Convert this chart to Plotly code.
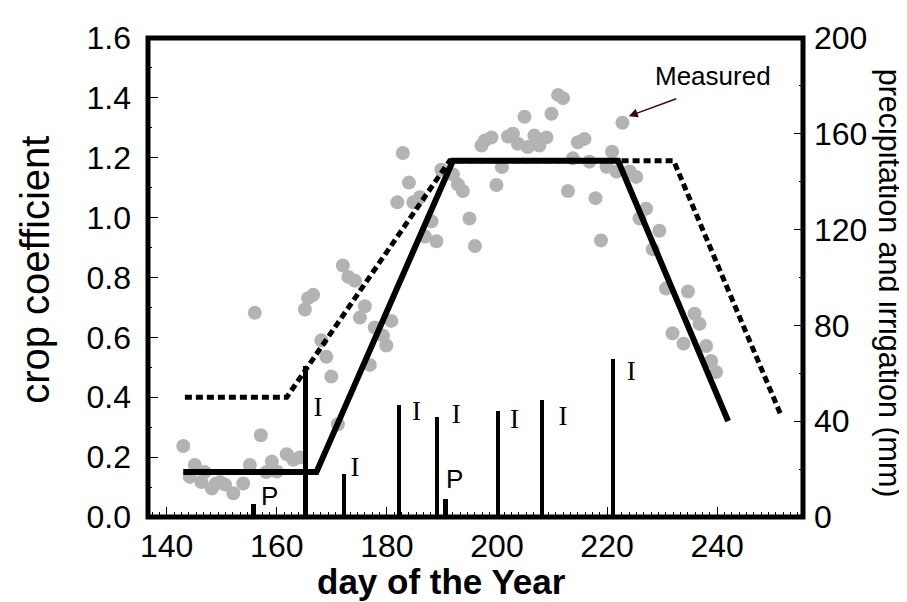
import plotly.graph_objects as go

# measured crop coefficient (gray dots)
meas_day = [143.0, 144.2, 145.1, 146.3, 146.9, 148.2, 148.9, 149.7, 150.6, 152.1,
            153.9, 155.1, 157.1, 158.1, 159.1, 160.0, 161.8, 163.0, 164.2,
            156.0, 165.1, 165.7, 166.6, 168.1, 169.0, 169.9, 171.1, 172.0, 173.0,
            174.2, 175.1, 176.0, 176.9, 177.8, 179.3, 179.9, 180.8, 181.9, 182.9,
            184.0, 184.8, 186.0, 186.9, 188.1, 189.0, 189.9, 192.0, 192.9, 193.8,
            195.0, 196.0, 197.2, 197.8, 199.0, 199.9, 200.9, 202.0, 202.9, 203.8,
            205.0, 205.6, 206.8, 207.7, 209.0, 209.9, 211.1, 212.0, 212.9, 213.8,
            214.7, 215.9, 216.8, 217.9, 218.9, 219.9, 220.9, 221.7, 222.8, 224.1,
            225.3, 225.9, 227.1, 228.3, 229.5, 230.7, 231.9, 233.9, 234.7, 235.9,
            236.8, 238.0, 238.9, 239.8]
meas_kc = [0.237, 0.134, 0.174, 0.117, 0.150, 0.095, 0.111, 0.117, 0.108, 0.079,
           0.112, 0.174, 0.273, 0.150, 0.185, 0.152, 0.210, 0.191, 0.199,
           0.682, 0.693, 0.731, 0.742, 0.590, 0.535, 0.469, 0.310, 0.840, 0.802,
           0.789, 0.666, 0.704, 0.508, 0.633, 0.606, 0.573, 0.655, 1.051, 1.216,
           1.117, 1.051, 1.068, 0.937, 0.988, 0.921, 1.160, 1.144, 1.111, 1.089,
           0.997, 0.905, 1.241, 1.258, 1.268, 1.109, 1.169, 1.271, 1.280, 1.247,
           1.337, 1.236, 1.274, 1.241, 1.268, 1.347, 1.410, 1.399, 1.089, 1.198,
           1.252, 1.263, 1.187, 1.065, 0.924, 1.170, 1.220, 1.154, 1.317, 1.154,
           1.136, 0.997, 1.030, 0.894, 0.956, 0.763, 0.614, 0.579, 0.753, 0.679,
           0.645, 0.571, 0.521, 0.484]

# crop coefficient curves
solid_day = [143, 167.2, 192, 222, 242]
solid_kc = [0.15, 0.15, 1.19, 1.19, 0.32]
dash_day = [143.3, 161.8, 191.4, 232.1, 251.6]
dash_kc = [0.4, 0.4, 1.19, 1.19, 0.34]

# irrigation and precipitation (mm)
irr_day = [165.2, 172.2, 182.2, 189.1, 200.2, 208.2, 221.1]
irr_mm = [63, 18, 46.6, 41.8, 44.3, 49, 66]
prec_day = [155.7, 190.7, 217.5]
prec_mm = [5.4, 7.5, 1]

# bar labels
i_lab_day = [167.5, 174.2, 185.4, 192.6, 203.2, 212.0, 224.4]
i_lab_mm = [45.2, 20.1, 43.2, 42.0, 39.9, 41.1, 60.2]
p_lab_day = [158.7, 192.3]
p_lab_mm = [7.9, 14.7]

font = "Liberation Sans, Arial, sans-serif"

fig = go.Figure()
fig.add_trace(go.Scatter(x=meas_day, y=meas_kc, mode="markers",
                         marker=dict(size=14, color="#b3b3b3"), showlegend=False))
fig.add_trace(go.Scatter(x=dash_day, y=dash_kc, mode="lines",
                         line=dict(color="black", width=5, dash="7px,4px"), showlegend=False))
fig.add_trace(go.Scatter(x=solid_day, y=solid_kc, mode="lines",
                         line=dict(color="black", width=6), showlegend=False))
fig.add_trace(go.Bar(x=irr_day, y=irr_mm, width=0.8, marker_color="black",
                     marker_line_width=0, yaxis="y2", showlegend=False))
fig.add_trace(go.Bar(x=prec_day, y=prec_mm, width=[0.9, 0.9, 2], marker_color="black",
                     marker_line_width=0, yaxis="y2", showlegend=False))
fig.add_trace(go.Scatter(x=i_lab_day, y=i_lab_mm, mode="text", text=["I"] * len(i_lab_day),
                         textfont=dict(family="Liberation Serif, Times New Roman, serif",
                                       size=27, color="black"),
                         yaxis="y2", showlegend=False))
fig.add_trace(go.Scatter(x=p_lab_day, y=p_lab_mm, mode="text", text=["P"] * len(p_lab_day),
                         textfont=dict(family=font, size=26, color="black"),
                         yaxis="y2", showlegend=False))

fig.add_annotation(x=223.95, y=1.339, ax=232.85, ay=1.399, axref="x", ayref="y",
                   text="", showarrow=True, arrowhead=2, arrowsize=1.2, arrowwidth=1.5,
                   arrowcolor="#3a0a0a")
fig.add_annotation(x=239.16, y=1.474, text="Measured", showarrow=False,
                   font=dict(family=font, size=26, color="black"))

# axis titles (the page adds an 8px body margin, figure is 899x594 inside it)
fig.add_annotation(xref="paper", yref="paper", x=-0.1725, y=0.516,
                   xanchor="center", yanchor="middle",
                   text="crop coefficient", textangle=-90, showarrow=False,
                   font=dict(size=40))
fig.add_annotation(xref="paper", yref="paper", x=1.1324, y=0.4877,
                   xanchor="center", yanchor="middle",
                   text="precipitation and irrigation (mm)", textangle=90, showarrow=False,
                   font=dict(size=30.5))
fig.add_annotation(xref="paper", yref="paper", x=0.448, y=-0.1341,
                   xanchor="center", yanchor="middle", borderpad=0,
                   text="<b>day of the Year</b>", showarrow=False, font=dict(size=35))

# frame
fig.add_shape(type="rect", xref="paper", yref="paper", x0=0, x1=1, y0=0, y1=1,
              line=dict(color="black", width=5), layer="above")

tick = dict(ticks="inside", tickwidth=1, tickcolor="black", showline=False,
            showgrid=False, zeroline=False, tickfont=dict(size=32), tickmode="linear",
            ticklabeloverflow="allow")

fig.update_layout(
    width=899, height=594,
    margin=dict(l=140, r=104, t=17.3, b=85.4),
    plot_bgcolor="white", paper_bgcolor="white",
    font=dict(family=font, color="black"),
    bargap=0,
    xaxis=dict(range=[136.6, 255.6], tick0=140, dtick=20, ticklen=10, ticklabelstandoff=7,
               minor=dict(ticks="inside", ticklen=5, tickwidth=1, tickcolor="black",
                          tick0=140, dtick=4 / 3), **tick),
    yaxis=dict(range=[0, 1.6], tick0=0, dtick=0.2, tickformat=".1f", ticklen=10,
               ticklabelstandoff=16,
               minor=dict(ticks="inside", ticklen=4, tickwidth=1, tickcolor="black", dtick=0.1),
               **tick),
    yaxis2=dict(range=[0, 200], overlaying="y", side="right", tick0=0, dtick=40, ticklen=9,
                ticklabelstandoff=10,
                minor=dict(ticks="inside", ticklen=4, tickwidth=1, tickcolor="black", dtick=20),
                **tick),
)

fig.write_html("out.html")
